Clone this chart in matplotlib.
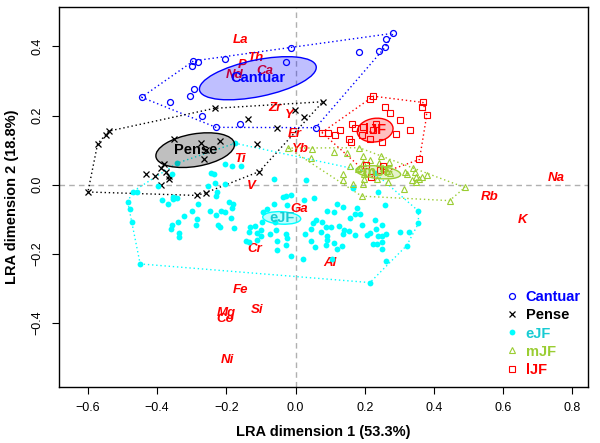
import numpy as np
import matplotlib.pyplot as plt
from matplotlib.patches import Ellipse
from matplotlib.lines import Line2D

plt.rcParams['font.family'] = ['Liberation Sans', 'DejaVu Sans']

# ============================================================================
# DATA (LRA row/column coordinates)
# ============================================================================
cantuar_x = [-0.013, -0.295, -0.281, -0.299, -0.204, -0.028, -0.445, -0.364, -0.294, -0.306,
             -0.269, -0.230, -0.160, 0.058, 0.184, 0.241, 0.259, 0.262, 0.282]
cantuar_y = [0.396, 0.358, 0.354, 0.343, 0.363, 0.354, 0.253, 0.240, 0.277, 0.258,
             0.199, 0.166, 0.175, 0.165, 0.384, 0.386, 0.398, 0.421, 0.438]

pense_x = [-0.540, -0.548, -0.572, -0.600, -0.350, -0.274, -0.217, -0.260, -0.266, -0.379,
           -0.389, -0.375, -0.366, -0.366, -0.432, -0.405, -0.390, -0.285, -0.259, -0.234,
           -0.138, -0.111, -0.105, -0.055, -0.001, 0.025, 0.079]
pense_y = [0.155, 0.143, 0.118, -0.021, 0.133, 0.120, 0.126, 0.100, 0.075, 0.061,
           0.048, 0.037, 0.026, 0.016, 0.030, 0.024, -0.002, -0.031, -0.023, 0.221,
           0.190, 0.117, 0.038, 0.163, 0.216, 0.195, 0.240]

ejf_x = [-0.358, -0.471, -0.459, -0.485, -0.477, -0.472, -0.449, -0.387, -0.368, -0.355,
         -0.342, -0.281, -0.300, -0.322, -0.339, -0.358, -0.361, -0.338, -0.337, -0.285,
         -0.288, -0.247, -0.230, -0.216, -0.203, -0.191, -0.181, -0.184, -0.186, -0.223,
         -0.218, -0.178, -0.245, -0.236, -0.232, -0.253, -0.203, -0.228, -0.229, -0.131,
         -0.118, -0.134, -0.112, -0.101, -0.100, -0.144, -0.134, -0.110, -0.205, -0.184,
         -0.158, -0.343, -0.175, -0.397, -0.353, -0.062, 0.029, -0.037, -0.028, -0.014,
         0.023, 0.054, -0.062, -0.082, -0.093, -0.025, -0.098, -0.060, -0.073, -0.057,
         -0.028, -0.024, -0.053, -0.028, -0.053, -0.012, 0.022, 0.028, 0.044, 0.044,
         0.056, 0.076, 0.059, 0.049, 0.073, 0.088, 0.103, 0.090, 0.110, 0.120,
         0.137, 0.126, 0.090, 0.092, 0.088, 0.110, 0.135, 0.119, 0.141, 0.137,
         0.155, 0.172, 0.158, 0.171, 0.177, 0.186, 0.193, 0.205, 0.215, 0.230,
         0.233, 0.249, 0.238, 0.250, 0.262, 0.223, 0.235, 0.250, 0.250, 0.257,
         0.238, 0.167, 0.302, 0.327, 0.355, 0.355, 0.321, 0.260, 0.215, 0.230,
         0.105]
ejf_y = [0.030, -0.020, -0.020, -0.050, -0.071, -0.109, -0.229, -0.045, -0.055, -0.040,
         -0.038, -0.057, -0.077, -0.091, -0.107, -0.116, -0.129, -0.140, -0.150, -0.098,
         -0.116, -0.076, -0.088, -0.075, -0.079, -0.051, -0.056, -0.066, -0.096, -0.116,
         -0.123, -0.125, 0.033, 0.030, 0.004, -0.004, 0.001, -0.020, -0.032, -0.121,
         -0.118, -0.137, -0.139, -0.132, -0.148, -0.163, -0.166, -0.161, 0.060, 0.055,
         0.055, 0.062, 0.120, -0.003, -0.035, 0.016, 0.013, -0.036, -0.033, -0.030,
         -0.045, -0.039, -0.057, -0.070, -0.078, -0.059, -0.107, -0.107, -0.142, -0.132,
         -0.143, -0.155, -0.163, -0.175, -0.190, -0.206, -0.216, -0.143, -0.129, -0.163,
         -0.180, -0.107, -0.101, -0.110, -0.137, -0.123, -0.123, -0.077, -0.078, -0.056,
         -0.065, -0.118, -0.148, -0.159, -0.174, -0.168, -0.176, -0.186, -0.130, -0.143,
         -0.134, -0.145, -0.097, -0.086, -0.068, -0.084, -0.116, -0.146, -0.139, -0.102,
         -0.127, -0.116, -0.147, -0.147, -0.143, -0.171, -0.171, -0.165, -0.187, -0.059,
         -0.022, -0.009, -0.137, -0.136, -0.076, -0.112, -0.176, -0.221, -0.283, 0.033,
         -0.216]

mjf_x = [-0.021, 0.047, 0.045, 0.110, 0.148, 0.184, 0.196, 0.247, 0.158, 0.194,
         0.240, 0.270, 0.180, 0.186, 0.136, 0.138, 0.165, 0.191, 0.198, 0.198,
         0.196, 0.218, 0.236, 0.266, 0.264, 0.273, 0.254, 0.312, 0.321, 0.340,
         0.346, 0.336, 0.348, 0.358, 0.365, 0.379, 0.348, 0.317, 0.489, 0.445,
         0.215]
mjf_y = [0.106, 0.102, 0.076, 0.096, 0.092, 0.107, 0.084, 0.082, 0.055, 0.062,
         0.062, 0.065, 0.045, 0.049, 0.031, 0.014, 0.001, -0.033, 0.030, 0.016,
         0.003, 0.040, 0.016, 0.009, 0.040, 0.033, 0.049, -0.013, 0.030, 0.047,
         0.036, 0.013, 0.009, 0.016, 0.023, 0.027, 0.022, 0.036, -0.008, -0.046,
         0.071]

ljf_x = [0.225, 0.215, 0.368, 0.366, 0.379, 0.259, 0.272, 0.303, 0.332, 0.290,
         0.249, 0.163, 0.173, 0.194, 0.231, 0.223, 0.214, 0.191, 0.127, 0.115,
         0.094, 0.076, 0.155, 0.161, 0.358, 0.204, 0.252, 0.218, 0.244]
ljf_y = [0.256, 0.247, 0.238, 0.224, 0.201, 0.224, 0.208, 0.187, 0.158, 0.146,
         0.124, 0.175, 0.163, 0.166, 0.175, 0.157, 0.131, 0.144, 0.159, 0.144,
         0.151, 0.151, 0.132, 0.123, 0.073, 0.058, 0.054, 0.023, 0.042]

# element (column) labels
elements = ['La', 'Th', 'P', 'Ca', 'Nd', 'Zr', 'Y', 'Er', 'Yb', 'Ti', 'V', 'Ga',
            'Cr', 'Al', 'Fe', 'Si', 'Mg', 'Co', 'Ni', 'Na', 'Rb', 'K']
elem_x = [-0.160, -0.117, -0.153, -0.088, -0.175, -0.059, -0.018, -0.003, 0.015,
          -0.162, -0.127, 0.010, -0.119, 0.098, -0.160, -0.110, -0.199, -0.202,
          -0.198, 0.753, 0.562, 0.656]
elem_y = [0.418, 0.367, 0.346, 0.329, 0.317, 0.222, 0.201, 0.146, 0.102, 0.073,
          -0.003, -0.070, -0.185, -0.227, -0.304, -0.362, -0.372, -0.388, -0.507,
          0.020, -0.035, -0.103]

# group ellipses: centre x, centre y, semi-axes, angle (deg)
groups = ['Cantuar', 'Pense', 'eJF', 'mJF', 'lJF']
ell_cx = [-0.109, -0.290, -0.040, 0.239, 0.230]
ell_cy = [0.308, 0.100, -0.096, 0.036, 0.158]
ell_a = [0.172, 0.115, 0.055, 0.065, 0.052]
ell_b = [0.053, 0.047, 0.018, 0.018, 0.034]
ell_ang = [11.6, 9.7, -3, -6, 8]

# ============================================================================
# STYLE PER GROUP
# ============================================================================
pts = {
    'Cantuar': (cantuar_x, cantuar_y),
    'Pense': (pense_x, pense_y),
    'eJF': (ejf_x, ejf_y),
    'mJF': (mjf_x, mjf_y),
    'lJF': (ljf_x, ljf_y),
}
col = {'Cantuar': 'blue', 'Pense': 'black', 'eJF': 'cyan', 'mJF': 'yellowgreen', 'lJF': 'red'}
txtcol = {'Cantuar': 'blue', 'Pense': 'black', 'eJF': '#17CBD3', 'mJF': 'yellowgreen', 'lJF': 'red'}
mk = {
    'Cantuar': dict(marker='o', mfc='none', ms=4.3, mew=0.9),
    'Pense': dict(marker='x', ms=4.3, mew=0.9),
    'eJF': dict(marker='o', ms=4.2, mew=0),
    'mJF': dict(marker='^', mfc='none', ms=4.6, mew=0.8),
    'lJF': dict(marker='s', mfc='none', ms=4.0, mew=0.8),
}


def hull(x, y):
    p = sorted(zip(x, y))

    def cross(o, a, b):
        return (a[0] - o[0]) * (b[1] - o[1]) - (a[1] - o[1]) * (b[0] - o[0])
    lower, upper = [], []
    for q in p:
        while len(lower) >= 2 and cross(lower[-2], lower[-1], q) <= 0:
            lower.pop()
        lower.append(q)
    for q in reversed(p):
        while len(upper) >= 2 and cross(upper[-2], upper[-1], q) <= 0:
            upper.pop()
        upper.append(q)
    h = lower[:-1] + upper[:-1]
    h.append(h[0])
    return np.array(h)


# ============================================================================
# PLOT
# ============================================================================
fig = plt.figure(figsize=(6, 4.43), dpi=100)
ax = fig.add_axes([0.0975, 0.1264, 0.8825, 0.8578])

ax.axhline(0, color='#B0B0B0', lw=1, ls=(0, (4, 3)), zorder=0)
ax.axvline(0, color='#B0B0B0', lw=1, ls=(0, (4, 3)), zorder=0)

# element labels
for e, x, y in zip(elements, elem_x, elem_y):
    ax.text(x, y, e, color='red', fontsize=9.5, fontweight='bold', fontstyle='italic',
            ha='center', va='center', zorder=2)

# hulls and points
for g in groups:
    x, y = pts[g]
    h = hull(x, y)
    ax.plot(h[:, 0], h[:, 1], color=col[g], lw=1, ls=(0, (1, 2)), zorder=3)
    ax.plot(x, y, ls='none', color=col[g], mec=col[g], zorder=4, **mk[g])

# confidence ellipses + group names
for g, cx, cy, a, b, ang in zip(groups, ell_cx, ell_cy, ell_a, ell_b, ell_ang):
    ax.add_patch(Ellipse((cx, cy), 2 * a, 2 * b, angle=ang, facecolor=col[g],
                         alpha=0.25, edgecolor='none', zorder=5))
    ax.add_patch(Ellipse((cx, cy), 2 * a, 2 * b, angle=ang, facecolor='none',
                         edgecolor=col[g], lw=1, zorder=6))
    ax.text(cx, cy, g, color=txtcol[g], fontsize=10.5, fontweight='bold',
            ha='center', va='center', zorder=7)

# ============================================================================
# AXES
# ============================================================================
ax.set_xlim(-0.685, 0.845)
ax.set_ylim(-0.585, 0.514)
ax.set_xticks([-0.6, -0.4, -0.2, 0.0, 0.2, 0.4, 0.6, 0.8])
ax.set_yticks([-0.4, -0.2, 0.0, 0.2, 0.4])
ax.tick_params(direction='out', length=5, width=0.8, labelsize=9, pad=6)
for lab in ax.get_yticklabels():
    lab.set_rotation(90)
    lab.set_va('center')
for s in ax.spines.values():
    s.set_linewidth(1)

ax.set_xlabel('LRA dimension 1 (53.3%)', fontsize=10.5, fontweight='bold')
ax.xaxis.set_label_coords(0.5, -45 / 380)
ax.xaxis.label.set_va('center')
ax.set_ylabel('LRA dimension 2 (18.8%)', fontsize=10.5, fontweight='bold')
ax.yaxis.set_label_coords(-46.5 / 529.5, 0.5)
ax.yaxis.label.set_va('center')

# legend
handles = [Line2D([], [], ls='none', color=col[g], mec=col[g], **mk[g]) for g in groups]
ax.legend(handles, groups, loc='lower right', bbox_to_anchor=(1.0, 0.008),
          frameon=False, borderpad=0, handlelength=0.8, handletextpad=0.55,
          labelspacing=0.28, labelcolor=[txtcol[g] for g in groups],
          prop={'weight': 'bold', 'size': 10.5})

plt.savefig('out.png', dpi=100)
